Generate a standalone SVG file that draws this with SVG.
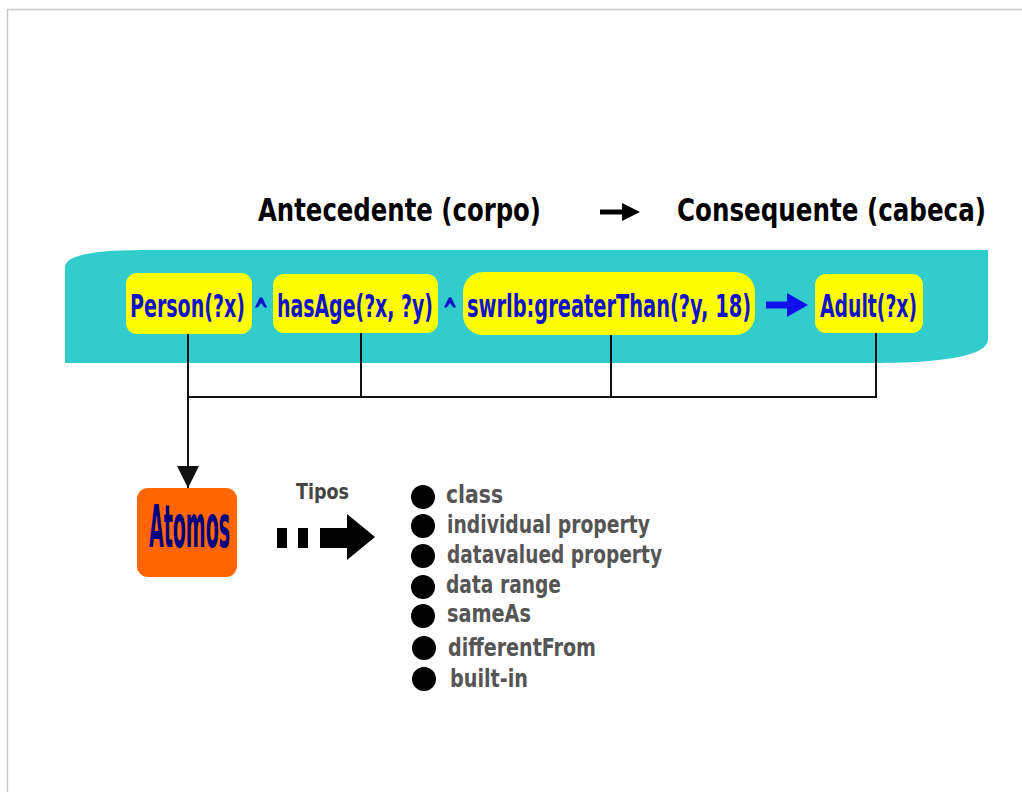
<svg xmlns="http://www.w3.org/2000/svg" width="1022" height="792" viewBox="0 0 1022 792">
  <style>
    .cond { font-family: "DejaVu Sans Condensed", "Liberation Sans Narrow", "Liberation Sans", sans-serif; font-weight: bold; }
    .head { font-size: 32px; fill: #000; }
    .atom { font-size: 32px; fill: #1212cc; }
    .caret { font-size: 34px; fill: #1212cc; stroke: #1212cc; stroke-width: 1.2; }
    .pill { fill: #ffff00; }
    .item { font-size: 24px; fill: #555; }
    .wire { stroke: #111; stroke-width: 2; fill: none; }
  </style>
  <defs>
    <marker id="tri" viewBox="0 0 10 10" refX="10" refY="5" markerWidth="11" markerHeight="13" markerUnits="strokeWidth" orient="auto">
      <path d="M0,0 L10,5 L0,10 Z" fill="#111"/>
    </marker>
  </defs>

  <rect x="0" y="0" width="1022" height="792" fill="#fff"/>
  <!-- page frame -->
  <path d="M7.5,792 L7.5,9.5 L1022,9.5" fill="none" stroke="#c9c9c9" stroke-width="1.5"/>

  <!-- headings -->
  <g id="heading">
    <text class="cond head" x="258" y="221" textLength="283" lengthAdjust="spacingAndGlyphs">Antecedente (corpo)</text>
    <path d="M600,212 L626,212" stroke="#000" stroke-width="5"/>
    <path d="M622,203 L640,212 L622,221 Z" fill="#000"/>
    <text class="cond head" x="677" y="221" textLength="309" lengthAdjust="spacingAndGlyphs">Consequente (cabeca)</text>
  </g>

  <!-- rule band -->
  <g id="rule">
    <path d="M65,267 Q66,250 143,250 L988,250 L988,340 Q986,362 880,363 L65,363 Z" fill="#33cccc"/>
  </g>

  <g id="person">
    <rect class="pill" x="126" y="273" width="126" height="61" rx="11"/>
    <text class="cond atom" x="130" y="317" textLength="115" lengthAdjust="spacingAndGlyphs">Person(?x)</text>
  </g>
  <text class="cond caret" x="254" y="323" textLength="14" lengthAdjust="spacingAndGlyphs">^</text>
  <g id="hasAge">
    <rect class="pill" x="273" y="274" width="165" height="59" rx="11"/>
    <text class="cond atom" x="277" y="317" textLength="156" lengthAdjust="spacingAndGlyphs">hasAge(?x, ?y)</text>
  </g>
  <text class="cond caret" x="443" y="323" textLength="14" lengthAdjust="spacingAndGlyphs">^</text>
  <g id="greaterThan">
    <rect class="pill" x="463" y="272" width="292" height="63" rx="20"/>
    <text class="cond atom" x="467" y="317" textLength="284" lengthAdjust="spacingAndGlyphs">swrlb:greaterThan(?y, 18)</text>
  </g>
  <g id="implies">
    <path d="M766,305 L792,305" stroke="#1010ee" stroke-width="7"/>
    <path d="M787,293 L808,305 L787,317 Z" fill="#1010ee"/>
  </g>
  <g id="adult">
    <rect class="pill" x="815" y="274" width="108" height="59" rx="11"/>
    <text class="cond atom" x="820" y="317" textLength="97" lengthAdjust="spacingAndGlyphs">Adult(?x)</text>
  </g>

  <!-- connectors -->
  <g id="connectors">
    <path class="wire" d="M188,334 L188,397 M361,333 L361,398 M611,335 L611,398 M876,333 L876,398 M188,397 L876,397"/>
    <path class="wire" d="M188,397 L188,488" marker-end="url(#tri)"/>
  </g>

  <g id="atomos">
    <rect x="137" y="488" width="100" height="89" rx="11" fill="#ff6600"/>
    <text class="cond" x="149" y="547" font-size="58" fill="#000080" textLength="81" lengthAdjust="spacingAndGlyphs">Atomos</text>
  </g>

  <g id="tipos">
    <text class="cond" x="296" y="499" font-size="21" fill="#444" textLength="53" lengthAdjust="spacingAndGlyphs">Tipos</text>
    <rect x="277" y="528" width="10" height="20" fill="#000"/>
    <rect x="298" y="528" width="10" height="20" fill="#000"/>
    <path d="M320,528 L347,528 L347,514 L375,537 L347,560 L347,548 L320,548 Z" fill="#000"/>
  </g>

  <g id="types">
    <circle cx="423" cy="497" r="12" fill="#000"/>
    <text class="cond item" x="446" y="503" textLength="57" lengthAdjust="spacingAndGlyphs">class</text>
    <circle cx="423" cy="526" r="12" fill="#000"/>
    <text class="cond item" x="447" y="533" textLength="203" lengthAdjust="spacingAndGlyphs">individual property</text>
    <circle cx="423" cy="556" r="12" fill="#000"/>
    <text class="cond item" x="447" y="563" textLength="215" lengthAdjust="spacingAndGlyphs">datavalued property</text>
    <circle cx="423" cy="587" r="12" fill="#000"/>
    <text class="cond item" x="446" y="593" textLength="115" lengthAdjust="spacingAndGlyphs">data range</text>
    <circle cx="423" cy="616" r="12" fill="#000"/>
    <text class="cond item" x="447" y="622" textLength="84" lengthAdjust="spacingAndGlyphs">sameAs</text>
    <circle cx="424" cy="648" r="12" fill="#000"/>
    <text class="cond item" x="448" y="656" textLength="148" lengthAdjust="spacingAndGlyphs">differentFrom</text>
    <circle cx="424" cy="679" r="12" fill="#000"/>
    <text class="cond item" x="450" y="687" textLength="78" lengthAdjust="spacingAndGlyphs">built-in</text>
  </g>
</svg>
